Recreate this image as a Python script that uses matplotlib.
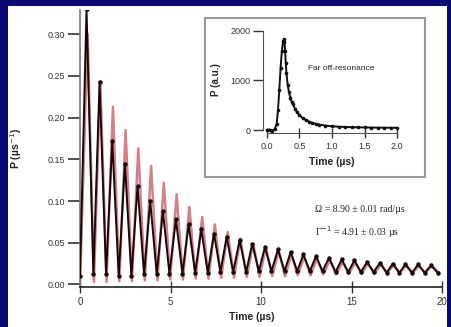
import matplotlib
matplotlib.use("Agg")
import matplotlib.pyplot as plt
from matplotlib.patches import Rectangle

# ---------------- data ----------------
# Main plot: fitted curve (red) - peaks and troughs
fit_peak_t = [0.42, 1.12, 1.82, 2.52, 3.22, 3.93, 4.63, 5.34, 6.04, 6.75, 7.45, 8.16, 8.86, 9.57,
              10.27, 10.98, 11.68, 12.39, 13.09, 13.80, 14.50, 15.21, 15.91, 16.62, 17.32, 18.03, 18.73, 19.44]
fit_peak_p = [0.300, 0.243, 0.213, 0.185, 0.163, 0.142, 0.122, 0.108, 0.093, 0.081, 0.072, 0.063, 0.055, 0.049,
              0.044, 0.040, 0.036, 0.033, 0.031, 0.029, 0.027, 0.026, 0.025, 0.024, 0.023, 0.023, 0.022, 0.022]
fit_trough_t = [0.00, 0.77, 1.47, 2.17, 2.87, 3.58, 4.28, 4.98, 5.69, 6.39, 7.10, 7.80, 8.51, 9.21, 9.92,
                10.62, 11.33, 12.03, 12.74, 13.44, 14.15, 14.85, 15.56, 16.26, 16.97, 17.67, 18.38, 19.08, 19.79]
fit_trough_p = [0.000, 0.003, 0.003, 0.004, 0.004, 0.005, 0.005, 0.006, 0.006, 0.007, 0.007, 0.008, 0.008, 0.009, 0.009,
                0.010, 0.010, 0.011, 0.011, 0.012, 0.012, 0.013, 0.013, 0.013, 0.014, 0.014, 0.014, 0.014, 0.015]

# Main plot: measured data (black) - peaks and troughs
data_peak_t = [0.36, 1.08, 1.78, 2.48, 3.18, 3.88, 4.58, 5.30, 6.00, 6.70, 7.40, 8.10, 8.82, 9.52,
               10.22, 10.94, 11.64, 12.34, 13.04, 13.76, 14.46, 15.16, 15.86, 16.58, 17.28, 17.98, 18.68, 19.40]
data_peak_p = [0.330, 0.243, 0.172, 0.145, 0.118, 0.100, 0.088, 0.078, 0.072, 0.066, 0.061, 0.057, 0.053, 0.049,
               0.045, 0.042, 0.039, 0.036, 0.034, 0.032, 0.030, 0.029, 0.027, 0.026, 0.025, 0.024, 0.024, 0.023]
data_trough_t = [0.00, 0.74, 1.44, 2.14, 2.84, 3.54, 4.24, 4.94, 5.66, 6.36, 7.06, 7.76, 8.46, 9.18, 9.88,
                 10.58, 11.30, 12.00, 12.70, 13.40, 14.12, 14.82, 15.52, 16.22, 16.94, 17.64, 18.34, 19.04, 19.76]
data_trough_p = [0.010, 0.012, 0.012, 0.010, 0.010, 0.012, 0.012, 0.013, 0.013, 0.014, 0.014, 0.015, 0.015, 0.015, 0.016,
                 0.016, 0.016, 0.016, 0.016, 0.016, 0.015, 0.015, 0.015, 0.015, 0.014, 0.014, 0.014, 0.014, 0.014]

main_xticks = [0, 5, 10, 15, 20]
main_yticks = [0.00, 0.05, 0.10, 0.15, 0.20, 0.25, 0.30]

# Inset: far off-resonance signal
inset_t = [0.00, 0.04, 0.08, 0.12, 0.15, 0.17, 0.19, 0.21, 0.23, 0.25, 0.26, 0.27, 0.28, 0.29, 0.30,
           0.32, 0.34, 0.36, 0.38, 0.40, 0.43, 0.46, 0.50, 0.55, 0.60, 0.65, 0.70, 0.75, 0.80, 0.90,
           1.00, 1.10, 1.20, 1.30, 1.40, 1.50, 1.60, 1.70, 1.80, 1.90, 2.00]
inset_p = [0, 10, -10, 20, 120, 400, 800, 1250, 1600, 1800, 1830, 1780, 1600, 1350, 1150,
           900, 760, 650, 570, 520, 430, 360, 300, 240, 200, 170, 145, 125, 110, 90,
           75, 68, 62, 58, 55, 52, 50, 48, 47, 46, 45]
inset_xticks = [0.0, 0.5, 1.0, 1.5, 2.0]
inset_xticklabels = ["0.0", "0.5", "1.0", "1.5", "2.0"]
inset_yticks = [0, 1000, 2000]

# --------------------------------------------------------------
W, H = 451, 327
fig = plt.figure(figsize=(W / 100, H / 100), dpi=100)
fig.patch.set_facecolor("#0b0b76")
fig.patches.append(Rectangle((8 / W, 0), (447 - 8) / W, (H - 6) / H,
                             transform=fig.transFigure, facecolor="white",
                             edgecolor="none", zorder=-10))

font = "Liberation Sans"


def px_axes(left, top, right, bottom):
    return [left / W, (H - bottom) / H, (right - left) / W, (bottom - top) / H]


# ---------------- main axes ----------------
ax = fig.add_axes(px_axes(80, 10, 442, 287))
ax.set_zorder(1)
ax.set_facecolor("none")

fit = sorted(zip(fit_peak_t + fit_trough_t, fit_peak_p + fit_trough_p))
dat = sorted(zip(data_peak_t + data_trough_t, data_peak_p + data_trough_p))

ax.plot([p[0] for p in fit], [p[1] for p in fit], color="#d4808a", lw=1.8, zorder=2)
ax.plot([p[0] for p in dat], [p[1] for p in dat], color="#1a0808", lw=1.4,
        marker="o", ms=2.2, zorder=3)

ax.set_xlim(0, 20)
ax.set_ylim(-0.003, 0.329)
for s in ["top", "right"]:
    ax.spines[s].set_visible(False)
ax.spines["left"].set_color("#777777")
ax.spines["bottom"].set_color("#222222")
ax.spines["left"].set_linewidth(1.2)
ax.spines["bottom"].set_linewidth(1.2)

ax.set_xticks(main_xticks)
ax.set_xticklabels([str(v) for v in main_xticks], fontsize=7, family=font)
ax.set_yticks(main_yticks)
ax.set_yticklabels([f"{v:.2f}" for v in main_yticks], fontsize=6.5, family=font)
ax.tick_params(axis="y", direction="out", length=9, width=1.2, pad=2, colors="#333333")
ax.tick_params(axis="x", direction="inout", length=8, width=1.0, pad=3, colors="#333333")

ax.set_xlabel("Time (\u00b5s)", fontsize=7.5, family=font, fontweight="bold", color="#222222")
ax.xaxis.set_label_coords((252 - 80) / 362, -(312 - 287) / 277)
ax.set_ylabel("P (\u00b5s$^{-1}$)", fontsize=7.5, family=font, fontweight="bold", color="#222222")
ax.yaxis.set_label_coords(-(80 - 24) / 362, 0.5)

ax.text(315, 327 - 210, "\u03a9 = 8.90 \u00b1 0.01 rad/\u00b5s", transform=None,
        fontsize=7, family="Liberation Serif", va="center", ha="left", color="#222222")
ax.text(315, 327 - 232, "\u0393$^{-1}$ = 4.91 \u00b1 0.03 \u00b5s", transform=None,
        fontsize=7, family="Liberation Serif", va="center", ha="left", color="#222222")

# ---------------- inset frame ----------------
fig.patches.append(Rectangle((205 / W, (H - 177) / H), (425 - 205) / W, (177 - 18) / H,
                             transform=fig.transFigure, facecolor="white",
                             edgecolor="#9a9a9a", lw=1.5, zorder=5))

# ---------------- inset axes ----------------
ins = fig.add_axes(px_axes(263, 26, 401, 133))
ins.set_zorder(10)
ins.set_facecolor("none")
ins.plot(inset_t, inset_p, color="#111111", lw=1.4, marker="o", ms=1.6, zorder=3)
ins.set_xlim(-0.06, 2.06)
ins.set_ylim(-60, 2100)
for s in ["top", "right"]:
    ins.spines[s].set_visible(False)
ins.spines["left"].set_bounds(0, 2000)
ins.spines["bottom"].set_bounds(0, 2.0)
ins.spines["left"].set_color("#555555")
ins.spines["bottom"].set_color("#555555")
ins.set_xticks(inset_xticks)
ins.set_xticklabels(inset_xticklabels, fontsize=6.5, family=font)
ins.set_yticks(inset_yticks)
ins.set_yticklabels([str(v) for v in inset_yticks], fontsize=6.5, family=font)
ins.tick_params(axis="y", direction="out", length=7, width=1.0, pad=2, colors="#333333")
ins.tick_params(axis="x", direction="inout", length=7, width=1.0, pad=3, colors="#333333")
ins.set_xlabel("Time (\u00b5s)", fontsize=7.5, family=font, fontweight="bold", color="#222222")
ins.xaxis.set_label_coords((332 - 263) / 138, -(157 - 133) / 107)
ins.set_ylabel("P (a.u.)", fontsize=7, family=font, fontweight="bold", color="#222222")
ins.yaxis.set_label_coords(-(263 - 221) / 138, 0.5)
ins.text(341, 327 - 68, "Far off-resonance", transform=None, fontsize=6,
         family=font, ha="center", va="center", color="#222222")

fig.savefig("out.png", dpi=100, facecolor=fig.get_facecolor())
